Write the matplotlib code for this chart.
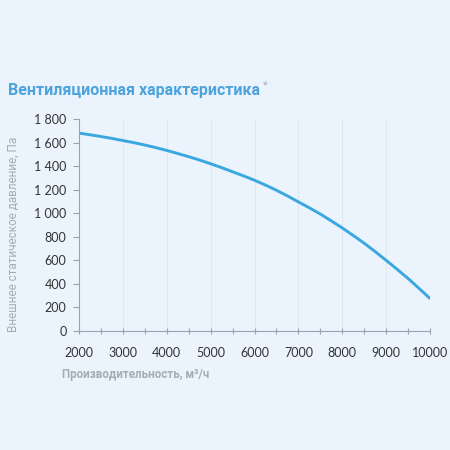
import numpy as np
import matplotlib.pyplot as plt
from matplotlib.ticker import FuncFormatter, MultipleLocator

# расход, м3/ч и давление, Па
rashod = [2000, 2250, 2500, 2750, 3000, 3250, 3500, 3750, 4000, 4250, 4500,
          4750, 5000, 5250, 5500, 5750, 6000, 6250, 6500, 6750, 7000,
          7250, 7500, 7750, 8000, 8250, 8500, 8750, 9000, 9250, 9500,
          9750, 10000]
davlenie = [1680, 1666, 1651, 1635, 1617, 1599, 1579, 1557, 1533, 1507, 1480,
            1451, 1420, 1387, 1352, 1317, 1280, 1239, 1195, 1147, 1096,
            1046, 993, 935, 875, 811, 745, 674, 600, 524, 446,
            362, 276]

x_ticks = [2000, 3000, 4000, 5000, 6000, 7000, 8000, 9000, 10000]
y_ticks = [0, 200, 400, 600, 800, 1000, 1200, 1400, 1600, 1800]

fon = '#ebf4fd'
fig = plt.figure(figsize=(4.5, 4.5), dpi=100, facecolor=fon)
ax = fig.add_axes([0.1756, 0.2644, 0.78, 0.4712], facecolor=fon)

ax.plot(rashod, davlenie, color='#3aa8df', lw=2.1, solid_capstyle='round',
        solid_joinstyle='round')

ax.set_xlim(2000, 10000)
ax.set_ylim(0, 1800)
ax.set_xticks(x_ticks)
ax.set_yticks(y_ticks)
ax.xaxis.set_minor_locator(MultipleLocator(500))
ax.yaxis.set_major_formatter(FuncFormatter(lambda v, p: f'{int(v):,}'.replace(',', ' ')))

ax.grid(axis='x', which='major', color='#dce4ed', lw=0.6)
for s in ['top', 'right']:
    ax.spines[s].set_visible(False)
for s in ['left', 'bottom']:
    ax.spines[s].set_color('#9aa3ad')
    ax.spines[s].set_linewidth(0.8)

ax.tick_params(axis='x', which='both', direction='inout', length=5, width=0.8,
               color='#9aa3ad', pad=9, labelsize=9, labelcolor='#333333')
ax.tick_params(axis='y', direction='out', length=4, width=0.8,
               color='#9aa3ad', pad=5, labelsize=9, labelcolor='#333333')
for lab in ax.get_xticklabels() + ax.get_yticklabels():
    lab.set_family(['Lato', 'DejaVu Sans'])

fig.text(0.018, 0.8, 'Вентиляционная характеристика', color='#4da3dc',
         fontsize=11.5, fontweight='bold', family='Roboto', va='center')
fig.text(0.585, 0.81, '*', color='#9fb4c6', fontsize=8, family='Roboto', va='center')

fig.text(0.03, 0.48, 'Внешнее статическое давление, Па', rotation=90,
         color='#a4acb5', fontsize=8.5, family='Roboto', ha='center', va='center')
fig.text(0.138, 0.1667, 'Производительность, м³/ч', color='#a4acb5',
         fontsize=8.4, family='Roboto', fontweight='bold', va='center')

fig.savefig('out.png', dpi=100, facecolor=fon)
